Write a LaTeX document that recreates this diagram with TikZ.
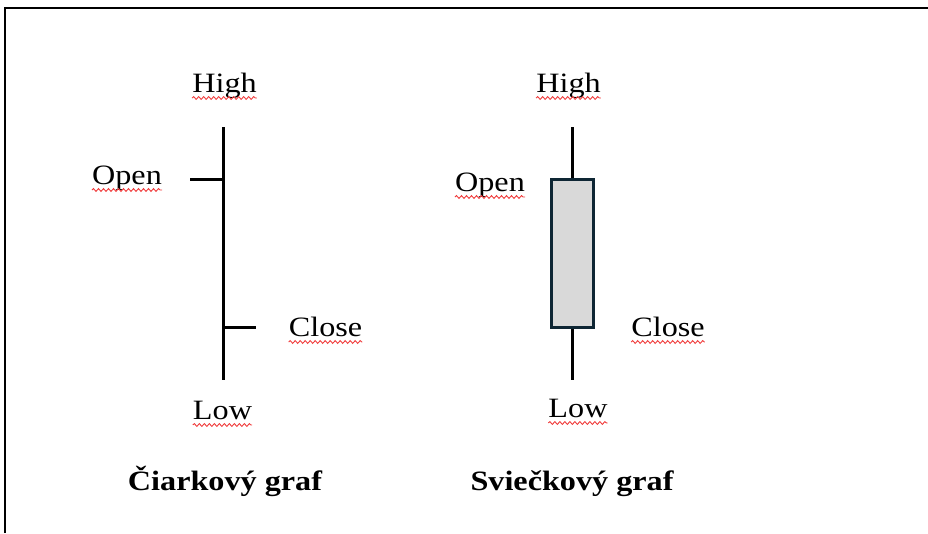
\documentclass[tikz,border=0pt]{standalone}
\usepackage{fontspec}
\setmainfont[FakeStretch=1.15]{Liberation Serif}
\usetikzlibrary{decorations.pathmorphing}
\definecolor{boxfill}{HTML}{D9D9D9}
\definecolor{boxline}{HTML}{0E2634}
\definecolor{squig}{HTML}{F03C3C}

\begin{document}
\begin{tikzpicture}[
		x=1pt, y=-1pt,
		every node/.style={inner sep=0pt, anchor=base, font=\fontsize{28}{34}\selectfont},
		title/.style={font=\fontsize{28}{34}\selectfont\bfseries},
		stick/.style={line width=3pt},
		squiggle/.style={draw=squig, line width=0.9pt, decorate,
			decoration={snake, amplitude=1.4pt, segment length=5pt}}
	]
  \useasboundingbox (0,0) rectangle (928,533);
  \draw [line width=2pt] (5,533) -- (5,8) -- (928,8);
  % ciarkovy graf
  \coordinate (l_high) at (223,127);
  \coordinate (l_low) at (223,380);
  \coordinate (l_open) at (190,179);
  \coordinate (l_open_j) at (223,179);
  \coordinate (l_close) at (256,327);
  \coordinate (l_close_j) at (223,327);
  \draw [stick] (l_high) -- (l_low);
  \draw [stick] (l_open) -- (l_open_j);
  \draw [stick] (l_close_j) -- (l_close);
  \node (l_high_t) at (224.5,92) {High};
  \node (l_open_t) at (127,184) {Open};
  \node (l_close_t) at (325.5,336) {Close};
  \node (l_low_t) at (222.5,419) {Low};
  \node (l_title) [title] at (225,490) {Čiarkový graf};
  % sviečkovy graf
  \coordinate (s_high) at (572,127);
  \coordinate (s_low) at (572,380);
  \node (s_body) [draw=boxline, fill=boxfill, line width=3pt, anchor=center,
    minimum width=42pt, minimum height=148pt] at (572,253) {};
  \draw [stick] (s_high) -- (s_body.north);
  \draw [stick] (s_body.south) -- (s_low);
  \node (s_high_t) at (568.5,92) {High};
  \node (s_open_t) at (490,191) {Open};
  \node (s_close_t) at (668,336) {Close};
  \node (s_low_t) at (578,417) {Low};
  \node (s_title) [title] at (572,490) {Sviečkový graf};
  % spell-check lines
  \foreach \t in {l_high_t, l_open_t, l_close_t, l_low_t, s_high_t, s_open_t, s_close_t, s_low_t}
    \draw [squiggle] ([yshift=-6pt]\t.base west) -- ([yshift=-6pt]\t.base east);
\end{tikzpicture}
\end{document}
